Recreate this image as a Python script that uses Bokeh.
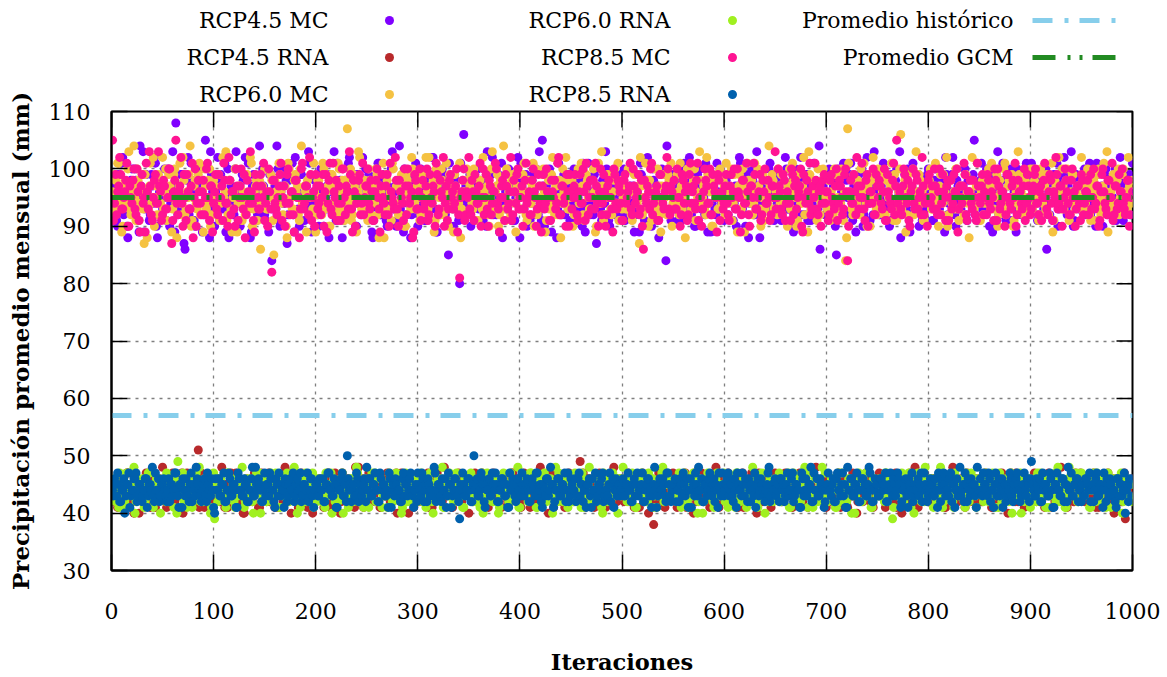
from bokeh.plotting import figure
from bokeh.models import Range1d, FixedTicker
from bokeh.layouts import column
from bokeh.embed import file_html
from bokeh.resources import INLINE
from bokeh.core.properties import value

# ---------------- data ----------------
# each series: values at odd iterations (1, 3, 5, ...) and at even iterations (2, 4, 6, ...)
iteraciones = list(range(1, 1001))

rcp45_mc_impar = [
    97, 93, 91, 99, 95, 102, 94, 90, 96, 98, 92, 100, 95, 89, 97, 103, 93, 96, 91, 99, 94, 101, 88, 96, 98,
    93, 95, 100, 90, 97, 94, 108, 92, 96, 99, 87, 95, 102, 93, 98, 91, 96, 94, 100, 89, 97, 95, 92, 103, 96,
    90, 98, 94, 99, 93, 101, 95, 88, 97, 92, 100, 96, 94, 91, 98, 102, 93, 95, 89, 99, 96, 92, 104, 94, 97,
    91, 95, 99, 84, 96, 93, 100, 90, 97, 94, 98, 92, 95, 101, 89, 96, 93, 99, 95, 91, 97, 103, 94, 92, 98,
    95, 90, 100, 96, 93, 97, 88, 99, 94, 92, 101, 95, 97, 91, 98, 94, 102, 93, 96, 90, 99, 95, 92, 97, 100,
    93, 96, 89, 98, 94, 101, 92, 95, 99, 91, 97, 94, 103, 96, 90, 98, 93, 95, 100, 92, 96, 88, 99, 94, 97,
    92, 100, 95, 91, 98, 94, 96, 102, 93, 89, 97, 95, 99, 92, 96, 101, 94, 90, 98, 93, 80, 95, 106, 97, 92,
    99, 94, 96, 91, 100, 95, 93, 98, 90, 97, 94, 102, 96, 92, 99, 95, 88, 97, 93, 100, 94, 96, 91, 98, 95,
    101, 93, 96, 90, 98, 94, 99, 92, 95, 103, 91, 97, 94, 96, 100, 89, 95, 98, 93, 96, 92, 99, 94, 97, 91,
    96, 100, 93, 95, 98, 90, 97, 94, 101, 92, 96, 99, 87, 95, 93, 98, 94, 100, 91, 97, 95, 92, 99, 96, 93,
    98, 91, 95, 100, 94, 97, 92, 96, 89, 99, 95, 93, 102, 96, 90, 98, 94, 97, 92, 100, 95, 84, 96, 93, 99,
    94, 97, 91, 98, 95, 101, 92, 96, 93, 99, 90, 97, 94, 100, 95, 92, 98, 96, 89, 97, 93, 101, 95, 94, 98,
    92, 96, 99, 94, 91, 97, 95, 102, 93, 96, 90, 98, 94, 100, 92, 95, 97, 88, 99, 94, 96, 93, 101, 95, 91,
    97, 94, 99, 92, 96, 100, 93, 95, 98, 90, 97, 94, 102, 96, 92, 99, 95, 91, 98, 93, 96, 104, 94, 97, 92,
    95, 100, 93, 97, 90, 98, 94, 96, 101, 92, 95, 99, 93, 97, 89, 96, 94, 100, 92, 98, 95, 91, 97, 103, 94,
    96, 92, 99, 95, 93, 98, 91, 97, 94, 100, 96, 88, 95, 99, 93, 97, 92, 101, 94, 96, 90, 98, 95, 93, 99,
    94, 97, 91, 100, 95, 93, 98, 96, 102, 92, 95, 99, 94, 90, 97, 93, 96, 100, 92, 98, 95, 94, 105, 96, 91,
    98, 93, 96, 100, 94, 97, 89, 95, 99, 92, 96, 101, 93, 98, 95, 91, 97, 94, 100, 96, 92, 99, 95, 93, 97,
    101, 94, 96, 91, 98, 95, 93, 100, 97, 92, 96, 99, 94, 90, 98, 95, 102, 93, 97, 94, 96, 91, 99, 95, 93,
    97, 100, 94, 96, 92, 98, 95, 101, 93, 96, 90, 99, 94, 97, 92, 95, 100, 93, 98, 96, 91, 97, 94, 99, 96,
]
rcp45_mc_par = [
    94, 99, 90, 96, 101, 92, 97, 88, 95, 100, 93, 98, 91, 104, 96, 89, 99, 94, 92, 97, 102, 90, 95, 98, 93,
    100, 91, 96, 94, 103, 89, 97, 93, 99, 95, 86, 98, 92, 101, 96, 90, 94, 100, 97, 92, 105, 95, 88, 99, 93,
    96, 102, 91, 95, 98, 89, 100, 94, 97, 92, 103, 96, 90, 99, 93, 95, 101, 88, 97, 94, 91, 98, 96, 100, 92,
    95, 89, 99, 93, 97, 104, 91, 96, 94, 100, 87, 98, 95, 92, 102, 96, 90, 99, 94, 97, 93, 101, 89, 96, 98,
    92, 97, 100, 90, 95, 93, 99, 96, 103, 91, 94, 98, 88, 97, 95, 101, 92, 96, 99, 90, 94, 97, 102, 93, 96,
    99, 93, 88, 97, 95, 101, 92, 98, 94, 90, 96, 100, 93, 97, 91, 104, 95, 89, 99, 94, 96, 92, 98, 101, 90,
    96, 94, 99, 91, 97, 93, 102, 95, 89, 98, 92, 100, 96, 94, 85, 97, 93, 99, 95, 91, 101, 96, 94, 98, 92,
    90, 97, 95, 100, 93, 98, 91, 96, 103, 94, 99, 92, 95, 97, 89, 101, 94, 96, 93, 99, 91, 97, 95, 102, 88,
    97, 93, 99, 95, 91, 98, 96, 100, 92, 94, 105, 90, 97, 95, 99, 93, 96, 88, 101, 94, 98, 92, 96, 99, 94,
    91, 99, 95, 97, 93, 101, 89, 96, 94, 98, 92, 100, 95, 97, 91, 94, 103, 96, 90, 98, 93, 95, 99, 92, 97,
    100, 94, 92, 97, 96, 89, 99, 93, 101, 95, 91, 98, 94, 96, 100, 92, 97, 88, 95, 99, 93, 104, 96, 91, 98,
    93, 96, 100, 91, 95, 98, 94, 102, 92, 97, 90, 99, 96, 93, 95, 101, 89, 97, 94, 98, 92, 96, 100, 95, 91,
    98, 92, 95, 99, 94, 90, 97, 101, 93, 96, 99, 88, 95, 98, 92, 103, 96, 94, 91, 97, 95, 100, 93, 99, 96,
    94, 98, 91, 96, 102, 93, 97, 95, 89, 100, 94, 98, 92, 96, 99, 91, 97, 94, 101, 95, 93, 86, 98, 96, 92,
    99, 95, 93, 97, 85, 100, 94, 96, 92, 98, 95, 101, 91, 97, 93, 99, 96, 90, 95, 102, 94, 97, 92, 98, 95,
    92, 97, 101, 94, 96, 90, 99, 93, 98, 95, 103, 92, 96, 94, 100, 89, 97, 95, 93, 99, 96, 91, 98, 94, 100,
    96, 91, 98, 93, 100, 95, 97, 89, 99, 94, 96, 102, 92, 98, 95, 93, 97, 100, 91, 96, 94, 99, 92, 97, 95,
    101, 93, 97, 95, 90, 99, 94, 96, 103, 92, 98, 95, 91, 97, 100, 93, 96, 89, 99, 94, 97, 92, 101, 95, 98,
    93, 99, 95, 92, 97, 100, 94, 86, 96, 98, 91, 95, 101, 93, 97, 94, 99, 92, 96, 103, 90, 98, 95, 93, 97,
    95, 92, 98, 101, 94, 96, 90, 99, 93, 97, 95, 100, 92, 96, 98, 94, 91, 97, 102, 95, 93, 99, 96, 92, 101,
]

rcp45_rna_impar = [
    44, 42, 45, 43, 46, 41, 44, 47, 43, 45, 42, 44, 46, 40, 43, 45, 44, 42, 47, 43, 45, 41, 44, 46, 43,
    45, 42, 44, 43, 46, 44, 41, 45, 43, 47, 44, 42, 45, 43, 46, 44, 42, 51, 43, 45, 41, 44, 46, 43, 45,
    42, 44, 46, 43, 45, 41, 44, 43, 47, 45, 42, 44, 46, 43, 40, 45, 44, 42, 46, 43, 45, 44, 41, 47, 43,
    44, 46, 42, 45, 43, 44, 41, 46, 44, 43, 45, 42, 47, 44, 43, 45, 41, 44, 46, 43, 42, 45, 44, 40, 46,
    43, 45, 44, 42, 46, 43, 45, 41, 44, 47, 43, 45, 42, 44, 46, 43, 44, 45, 42, 48, 44, 43, 46, 41, 45,
    44, 42, 46, 43, 45, 44, 41, 45, 43, 46, 44, 42, 45, 43, 47, 44, 42, 45, 43, 46, 40, 44, 45, 43, 46,
    42, 45, 44, 43, 46, 41, 44, 45, 43, 47, 44, 42, 45, 43, 46, 44, 41, 45, 43, 44, 46, 42, 45, 44, 43,
    46, 43, 44, 42, 45, 44, 47, 43, 45, 41, 44, 46, 43, 45, 42, 44, 46, 43, 45, 44, 42, 47, 43, 44, 45,
    41, 44, 46, 43, 45, 42, 44, 43, 46, 44, 45, 42, 43, 47, 44, 45, 41, 46, 43, 44, 42, 45, 44, 43, 46,
    44, 42, 45, 43, 49, 44, 42, 46, 43, 45, 44, 41, 45, 43, 46, 44, 42, 45, 43, 47, 44, 45, 42, 44, 46,
    43, 45, 44, 42, 46, 43, 44, 45, 41, 44, 46, 43, 45, 42, 44, 38, 45, 43, 46, 44, 42, 45, 43, 44, 46,
    44, 42, 45, 43, 46, 44, 41, 45, 44, 43, 47, 42, 44, 45, 43, 46, 44, 42, 45, 43, 44, 46, 41, 45, 43,
    45, 43, 44, 46, 42, 45, 44, 43, 46, 41, 44, 45, 43, 47, 44, 42, 45, 43, 46, 44, 45, 42, 44, 43, 46,
    43, 45, 44, 42, 46, 44, 43, 45, 41, 44, 46, 43, 45, 42, 44, 47, 43, 45, 44, 42, 46, 43, 44, 45, 42,
    44, 46, 43, 45, 42, 44, 45, 43, 46, 44, 41, 45, 43, 44, 46, 42, 45, 44, 43, 47, 44, 42, 45, 43, 46,
    45, 43, 44, 46, 42, 45, 43, 44, 46, 41, 45, 44, 43, 46, 42, 44, 45, 43, 48, 44, 42, 45, 43, 44, 46,
    43, 44, 46, 42, 45, 44, 43, 46, 41, 44, 45, 43, 47, 44, 42, 45, 44, 43, 46, 44, 42, 45, 43, 44, 46,
    44, 42, 45, 43, 46, 44, 41, 45, 43, 44, 46, 42, 45, 44, 43, 47, 44, 42, 45, 43, 46, 44, 42, 45, 43,
    45, 43, 44, 46, 42, 44, 45, 43, 46, 44, 41, 45, 43, 44, 46, 42, 45, 44, 43, 46, 44, 42, 45, 43, 47,
    44, 42, 45, 43, 46, 44, 43, 45, 41, 44, 46, 43, 45, 42, 44, 46, 43, 45, 44, 42, 46, 39, 44, 45, 43,
]
rcp45_rna_par = [
    45, 43, 41, 46, 44, 42, 45, 47, 43, 44, 40, 46, 45, 43, 42, 44, 47, 45, 41, 43, 46, 44, 42, 45, 48,
    43, 41, 45, 44, 47, 42, 46, 43, 44, 40, 45, 47, 43, 46, 42, 44, 45, 41, 47, 43, 44, 46, 42, 45, 43,
    46, 44, 42, 48, 43, 45, 41, 44, 46, 43, 47, 42, 45, 44, 40, 46, 43, 45, 42, 47, 44, 41, 45, 46, 43,
    42, 47, 44, 45, 41, 43, 46, 44, 42, 48, 45, 43, 40, 46, 44, 42, 45, 47, 43, 44, 41, 46, 45, 43, 42,
    44, 46, 43, 41, 45, 47, 42, 44, 46, 43, 45, 40, 47, 44, 42, 46, 43, 45, 41, 44, 48, 43, 42, 46, 44,
    47, 43, 45, 42, 44, 46, 41, 45, 43, 47, 44, 42, 46, 45, 40, 43, 47, 44, 42, 45, 46, 43, 41, 44, 45,
    43, 46, 42, 45, 47, 44, 41, 43, 46, 44, 45, 42, 48, 43, 44, 46, 41, 45, 43, 47, 42, 44, 46, 45, 40,
    45, 42, 47, 44, 43, 46, 45, 41, 44, 42, 46, 47, 43, 45, 44, 41, 46, 43, 42, 45, 47, 44, 43, 46, 42,
    44, 47, 43, 45, 41, 46, 44, 42, 45, 48, 43, 44, 46, 40, 45, 43, 47, 42, 44, 46, 45, 41, 43, 47, 44,
    46, 43, 44, 42, 45, 47, 41, 44, 46, 43, 45, 42, 44, 47, 43, 46, 41, 45, 44, 42, 48, 43, 46, 44, 45,
    42, 45, 47, 43, 44, 41, 46, 45, 43, 47, 42, 44, 40, 46, 45, 43, 42, 47, 44, 46, 41, 45, 43, 44, 47,
    45, 41, 44, 46, 43, 47, 42, 45, 44, 40, 46, 43, 45, 47, 42, 44, 46, 41, 45, 43, 48, 44, 42, 46, 45,
    43, 47, 45, 42, 44, 46, 41, 43, 47, 45, 44, 42, 46, 43, 45, 40, 47, 44, 42, 46, 43, 45, 41, 44, 47,
    46, 44, 42, 45, 47, 43, 44, 41, 46, 45, 42, 47, 44, 43, 46, 41, 45, 44, 42, 48, 43, 45, 46, 44, 41,
    44, 42, 46, 43, 45, 47, 41, 44, 46, 42, 45, 43, 47, 44, 40, 46, 45, 42, 44, 47, 43, 46, 41, 45, 44,
    47, 43, 45, 41, 44, 46, 43, 42, 47, 45, 44, 40, 46, 43, 45, 47, 42, 44, 46, 41, 45, 43, 47, 44, 42,
    45, 46, 43, 44, 42, 47, 45, 41, 43, 46, 44, 48, 42, 45, 43, 46, 44, 41, 47, 45, 43, 42, 46, 44, 45,
    42, 44, 47, 45, 43, 41, 46, 44, 42, 45, 47, 43, 46, 40, 44, 45, 43, 47, 42, 46, 44, 41, 45, 43, 46,
    44, 47, 42, 46, 45, 43, 41, 44, 47, 43, 45, 42, 46, 44, 48, 43, 45, 41, 44, 46, 42, 47, 45, 43, 44,
    46, 43, 45, 42, 44, 47, 41, 45, 43, 46, 44, 42, 47, 45, 43, 40, 46, 44, 45, 42, 47, 43, 45, 44, 46,
]

rcp60_mc_impar = [
    96, 99, 93, 101, 95, 90, 98, 94, 103, 92, 97, 95, 100, 91, 96, 93, 99, 88, 97, 94, 102, 95, 92, 98, 96,
    93, 100, 95, 97, 89, 99, 94, 96, 101, 92, 98, 93, 95, 104, 91, 97, 94, 99, 92, 96, 100, 93, 98, 90, 95,
    97, 92, 99, 94, 102, 96, 91, 98, 93, 95, 100, 89, 97, 94, 96, 92, 99, 95, 101, 93, 97, 91, 98, 94, 96,
    100, 93, 95, 98, 85, 96, 92, 99, 94, 97, 90, 101, 95, 93, 98, 96, 92, 100, 94, 97, 89, 95, 99, 93, 96,
    92, 98, 95, 101, 93, 96, 90, 99, 94, 97, 92, 100, 96, 93, 98, 107, 95, 91, 99, 94, 96, 102, 93, 97, 95,
    91, 98, 94, 96, 100, 92, 97, 95, 88, 99, 93, 96, 101, 94, 97, 92, 98, 95, 90, 99, 96, 93, 100, 94, 97,
    95, 92, 99, 93, 96, 102, 94, 98, 91, 97, 95, 100, 92, 96, 93, 99, 94, 89, 97, 95, 101, 93, 96, 98, 92,
    97, 94, 100, 95, 91, 98, 93, 96, 99, 92, 95, 103, 94, 97, 90, 98, 95, 93, 100, 96, 92, 99, 94, 97, 95,
    93, 99, 96, 91, 98, 94, 101, 95, 92, 97, 94, 100, 89, 96, 93, 99, 95, 97, 92, 98, 94, 96, 102, 93, 95,
    98, 92, 96, 100, 94, 97, 91, 99, 95, 93, 98, 96, 90, 101, 94, 97, 92, 95, 99, 93, 96, 100, 94, 91, 98,
    95, 97, 93, 100, 92, 96, 99, 94, 87, 97, 95, 101, 93, 98, 91, 96, 94, 100, 92, 97, 95, 93, 99, 96, 90,
    98, 94, 96, 101, 93, 95, 99, 92, 97, 94, 100, 96, 91, 98, 95, 93, 102, 94, 97, 90, 96, 99, 93, 95, 98,
    92, 97, 95, 100, 94, 96, 89, 99, 93, 97, 95, 101, 92, 98, 94, 96, 100, 93, 95, 91, 98, 94, 97, 99, 93,
    96, 100, 94, 92, 98, 95, 97, 93, 101, 96, 90, 99, 94, 97, 92, 95, 103, 93, 98, 96, 91, 97, 94, 100, 95,
    93, 98, 96, 92, 99, 95, 94, 100, 91, 84, 107, 96, 93, 99, 95, 98, 92, 96, 101, 94, 97, 90, 98, 95, 93,
    100, 94, 96, 92, 98, 95, 97, 93, 99, 91, 96, 106, 94, 98, 92, 97, 95, 100, 93, 96, 99, 94, 91, 97, 95,
    98, 93, 96, 101, 94, 97, 92, 99, 95, 90, 98, 94, 96, 100, 93, 97, 95, 92, 99, 94, 96, 102, 93, 97, 95,
    91, 98, 94, 96, 100, 93, 97, 95, 99, 92, 96, 94, 101, 93, 98, 95, 90, 97, 94, 99, 96, 92, 98, 95, 93,
    97, 100, 94, 96, 92, 99, 95, 93, 98, 96, 101, 91, 97, 94, 96, 100, 93, 98, 95, 92, 99, 94, 96, 97, 93,
    95, 99, 93, 97, 91, 98, 96, 94, 100, 92, 97, 95, 103, 93, 96, 99, 94, 98, 92, 96, 100, 95, 93, 97, 94,
]
rcp60_mc_par = [
    92, 98, 101, 94, 89, 97, 95, 100, 93, 96, 104, 91, 98, 94, 99, 87, 96, 93, 101, 95, 90, 97, 99, 94, 102,
    96, 91, 99, 95, 93, 100, 88, 97, 94, 102, 92, 96, 99, 90, 95, 98, 93, 101, 96, 89, 97, 94, 100, 92, 98,
    94, 99, 91, 97, 95, 103, 92, 98, 89, 96, 100, 94, 97, 91, 99, 95, 93, 102, 90, 96, 98, 94, 86, 97, 100,
    93, 96, 99, 91, 98, 94, 101, 96, 92, 97, 88, 100, 95, 93, 99, 97, 91, 104, 94, 96, 98, 92, 95, 101, 89,
    98, 95, 92, 100, 94, 97, 90, 99, 96, 93, 101, 95, 98, 91, 96, 94, 100, 92, 97, 89, 103, 95, 93, 98, 96,
    100, 92, 97, 94, 99, 88, 96, 101, 93, 98, 95, 91, 100, 94, 97, 92, 99, 96, 90, 98, 94, 102, 95, 93, 97,
    91, 99, 95, 102, 93, 97, 94, 89, 100, 96, 92, 98, 95, 101, 90, 97, 93, 99, 96, 94, 88, 98, 92, 100, 95,
    99, 93, 96, 91, 98, 95, 102, 94, 97, 90, 100, 93, 96, 99, 92, 95, 104, 91, 97, 94, 98, 96, 89, 99, 93,
    96, 101, 92, 98, 94, 97, 90, 100, 95, 93, 99, 96, 91, 98, 94, 102, 92, 97, 95, 88, 100, 94, 98, 93, 96,
    90, 97, 99, 94, 101, 92, 96, 98, 93, 95, 100, 89, 97, 94, 103, 91, 96, 99, 95, 92, 98, 94, 101, 96, 93,
    97, 93, 100, 96, 91, 99, 94, 97, 102, 92, 95, 98, 90, 96, 94, 100, 93, 97, 89, 99, 95, 92, 98, 101, 94,
    95, 99, 92, 97, 94, 88, 100, 96, 93, 98, 91, 95, 103, 94, 97, 92, 99, 96, 90, 98, 95, 93, 100, 94, 97,
    101, 94, 96, 91, 99, 95, 97, 93, 100, 89, 96, 98, 94, 92, 101, 95, 97, 90, 99, 93, 96, 104, 92, 98, 95,
    92, 97, 99, 94, 96, 90, 100, 93, 98, 95, 91, 97, 94, 102, 96, 89, 99, 93, 97, 95, 100, 92, 98, 94, 96,
    98, 91, 95, 100, 93, 97, 94, 99, 96, 88, 101, 95, 92, 98, 94, 96, 100, 93, 97, 90, 99, 95, 102, 94, 92,
    94, 99, 96, 92, 98, 95, 101, 91, 97, 94, 100, 93, 96, 89, 99, 95, 97, 92, 103, 94, 98, 96, 91, 97, 95,
    100, 93, 97, 95, 90, 99, 94, 96, 102, 92, 98, 95, 93, 100, 91, 97, 94, 99, 96, 88, 98, 93, 95, 101, 94,
    96, 92, 99, 94, 97, 101, 93, 95, 90, 98, 96, 100, 92, 97, 94, 99, 91, 96, 103, 93, 98, 95, 92, 97, 100,
    93, 98, 95, 91, 100, 94, 97, 99, 92, 96, 89, 98, 95, 102, 93, 97, 94, 100, 91, 96, 99, 93, 97, 95, 102,
    97, 94, 100, 92, 96, 98, 91, 99, 95, 93, 101, 96, 89, 98, 94, 97, 92, 100, 95, 99, 93, 96, 102, 94, 98,
]

rcp60_rna_impar = [
    43, 46, 44, 41, 45, 44, 42, 47, 43, 45, 44, 40, 46, 43, 44, 45, 42, 44, 47, 43, 41, 45, 44, 46, 43,
    44, 42, 45, 46, 43, 41, 44, 49, 45, 43, 42, 46, 44, 45, 41, 43, 47, 44, 42, 45, 46, 43, 44, 40, 45,
    39, 45, 43, 46, 44, 42, 47, 44, 43, 45, 41, 46, 44, 43, 45, 42, 44, 46, 43, 40, 45, 44, 47, 42, 44,
    46, 43, 44, 42, 45, 47, 43, 41, 44, 46, 45, 42, 43, 44, 48, 45, 43, 41, 46, 44, 42, 45, 43, 47, 44,
    42, 45, 44, 46, 41, 43, 45, 47, 44, 42, 45, 43, 46, 40, 44, 45, 43, 46, 42, 44, 47, 43, 45, 41, 44,
    45, 43, 47, 44, 42, 46, 44, 41, 45, 43, 44, 46, 42, 45, 47, 43, 44, 41, 46, 45, 43, 42, 44, 46, 43,
    44, 47, 42, 45, 43, 46, 44, 40, 45, 43, 44, 46, 41, 44, 45, 47, 43, 42, 46, 44, 45, 43, 41, 44, 46,
    43, 45, 46, 42, 44, 41, 47, 45, 43, 44, 46, 42, 45, 44, 40, 43, 46, 45, 44, 42, 47, 43, 45, 44, 41,
    46, 44, 43, 45, 42, 47, 44, 46, 41, 43, 45, 44, 42, 46, 45, 43, 44, 48, 42, 45, 43, 46, 44, 41, 45,
    43, 46, 44, 42, 45, 47, 41, 44, 45, 43, 46, 42, 44, 45, 43, 40, 46, 44, 45, 42, 47, 43, 44, 46, 43,
    48, 44, 42, 45, 46, 43, 41, 45, 44, 47, 43, 45, 42, 44, 46, 41, 45, 43, 44, 47, 42, 45, 46, 43, 44,
    45, 42, 44, 46, 43, 47, 44, 41, 45, 43, 46, 44, 42, 45, 40, 44, 46, 43, 45, 42, 44, 47, 43, 45, 44,
    42, 46, 44, 43, 45, 41, 47, 44, 43, 46, 45, 42, 44, 43, 46, 45, 41, 44, 47, 43, 45, 42, 46, 44, 43,
    45, 44, 42, 46, 43, 45, 47, 41, 44, 43, 46, 45, 42, 44, 48, 43, 45, 44, 41, 46, 43, 44, 45, 42, 47,
    44, 43, 46, 45, 41, 44, 42, 47, 45, 43, 44, 46, 40, 45, 43, 44, 46, 42, 45, 47, 43, 44, 41, 46, 45,
    43, 45, 44, 42, 47, 46, 43, 39, 44, 45, 43, 46, 42, 44, 45, 47, 41, 44, 46, 43, 45, 42, 44, 48, 43,
    46, 44, 41, 45, 43, 47, 44, 42, 46, 45, 43, 44, 41, 46, 44, 45, 43, 42, 47, 44, 46, 43, 45, 41, 44,
    45, 43, 46, 44, 42, 45, 47, 43, 44, 41, 46, 45, 43, 44, 42, 47, 45, 44, 43, 46, 40, 45, 44, 43, 46,
    42, 45, 44, 47, 43, 46, 44, 41, 45, 43, 44, 46, 42, 48, 44, 45, 43, 41, 46, 44, 45, 43, 47, 42, 44,
    45, 43, 46, 44, 41, 45, 44, 47, 43, 42, 46, 44, 45, 43, 41, 46, 44, 43, 45, 47, 42, 44, 46, 43, 45,
]
rcp60_rna_par = [
    45, 42, 44, 47, 43, 46, 41, 44, 45, 43, 48, 42, 45, 44, 46, 41, 43, 47, 45, 44, 42, 46, 43, 40, 45,
    43, 47, 42, 45, 44, 46, 40, 44, 43, 47, 45, 41, 44, 46, 42, 45, 43, 48, 44, 42, 46, 43, 45, 41, 47,
    44, 42, 46, 45, 43, 41, 47, 44, 46, 42, 45, 43, 44, 48, 41, 46, 45, 43, 42, 44, 47, 45, 40, 43, 46,
    42, 45, 47, 43, 44, 46, 41, 45, 43, 44, 47, 42, 46, 45, 43, 40, 44, 46, 42, 47, 45, 43, 44, 41, 46,
    46, 44, 42, 45, 47, 43, 44, 40, 46, 45, 42, 44, 47, 43, 45, 41, 46, 44, 43, 48, 42, 45, 44, 46, 43,
    41, 45, 44, 47, 42, 44, 46, 43, 45, 41, 47, 44, 42, 46, 45, 43, 40, 44, 47, 42, 45, 46, 43, 44, 42,
    45, 43, 46, 41, 44, 47, 42, 45, 44, 46, 43, 48, 41, 45, 43, 44, 46, 42, 47, 45, 43, 41, 46, 44, 45,
    47, 42, 44, 45, 43, 46, 40, 45, 47, 43, 44, 42, 46, 45, 41, 44, 47, 43, 45, 42, 46, 44, 43, 48, 41,
    44, 46, 43, 42, 47, 45, 44, 41, 46, 43, 45, 47, 42, 44, 46, 40, 45, 43, 47, 44, 42, 45, 46, 43, 44,
    42, 47, 45, 44, 41, 46, 43, 45, 48, 42, 44, 46, 43, 45, 41, 47, 44, 42, 46, 45, 43, 44, 40, 46, 45,
    46, 43, 44, 42, 47, 45, 41, 44, 46, 43, 45, 42, 47, 44, 46, 43, 41, 45, 44, 48, 42, 46, 45, 43, 44,
    43, 45, 47, 41, 44, 46, 42, 45, 43, 47, 44, 40, 46, 45, 42, 44, 47, 43, 45, 41, 46, 44, 43, 45, 47,
    45, 41, 44, 46, 43, 47, 45, 42, 44, 46, 41, 45, 43, 48, 44, 42, 46, 45, 43, 40, 47, 44, 45, 42, 46,
    44, 47, 42, 45, 46, 43, 41, 44, 47, 45, 43, 42, 46, 44, 45, 41, 47, 43, 44, 46, 42, 45, 48, 43, 44,
    42, 45, 46, 44, 41, 47, 43, 45, 44, 42, 46, 45, 43, 40, 44, 47, 42, 46, 45, 43, 44, 41, 46, 45, 43,
    46, 44, 43, 47, 42, 45, 44, 41, 46, 43, 45, 47, 42, 44, 46, 43, 45, 40, 44, 47, 43, 45, 42, 46, 44,
    43, 46, 45, 42, 44, 48, 41, 45, 43, 46, 44, 42, 47, 45, 43, 44, 46, 41, 45, 42, 47, 44, 43, 46, 45,
    45, 42, 47, 44, 43, 46, 45, 41, 44, 47, 42, 45, 46, 43, 44, 40, 46, 45, 43, 47, 44, 42, 45, 46, 41,
    44, 46, 42, 45, 47, 43, 44, 46, 41, 45, 43, 47, 44, 42, 46, 45, 41, 44, 48, 43, 45, 46, 42, 44, 47,
    43, 45, 46, 41, 44, 47, 42, 45, 43, 46, 44, 41, 47, 45, 43, 44, 46, 42, 45, 40, 44, 46, 43, 45, 42,
]

rcp85_mc_impar = [
    105, 94, 92, 97, 99, 93, 96, 101, 90, 95, 98, 93, 100, 91, 97, 94, 89, 96, 103, 92, 95, 99, 94, 97, 91,
    98, 93, 95, 100, 87, 96, 105, 92, 97, 94, 99, 91, 96, 93, 101, 95, 90, 98, 94, 96, 92, 100, 95, 97, 89,
    96, 93, 99, 95, 91, 98, 94, 102, 92, 96, 90, 97, 95, 100, 93, 88, 98, 94, 96, 91, 99, 95, 93, 97, 101,
    94, 90, 96, 82, 98, 93, 95, 99, 91, 97, 94, 100, 92, 96, 89, 98, 95, 93, 101, 94, 97, 92, 99, 95, 90,
    97, 94, 92, 99, 96, 89, 98, 93, 101, 95, 91, 97, 94, 100, 92, 96, 103, 93, 98, 90, 95, 99, 94, 92, 97,
    100, 93, 96, 91, 98, 95, 89, 99, 94, 97, 92, 101, 95, 93, 98, 90, 96, 94, 100, 92, 97, 95, 88, 99, 93,
    96, 91, 98, 94, 100, 92, 95, 97, 90, 99, 93, 96, 102, 94, 91, 98, 95, 93, 97, 89, 81, 96, 100, 92, 95,
    93, 98, 91, 96, 94, 101, 95, 92, 99, 90, 97, 94, 96, 100, 93, 95, 98, 91, 97, 94, 102, 92, 96, 99, 93,
    95, 90, 98, 94, 96, 92, 100, 95, 93, 97, 89, 99, 94, 96, 91, 98, 95, 93, 101, 92, 97, 94, 90, 96, 99,
    93, 97, 95, 91, 99, 94, 96, 101, 92, 98, 95, 93, 97, 90, 100, 94, 96, 92, 98, 95, 89, 99, 93, 97, 94,
    91, 99, 95, 97, 93, 100, 94, 96, 92, 98, 86, 95, 97, 93, 101, 94, 96, 91, 99, 95, 93, 97, 100, 92, 96,
    98, 93, 95, 90, 99, 94, 97, 92, 101, 96, 94, 98, 91, 95, 93, 100, 97, 94, 92, 99, 96, 89, 98, 95, 93,
    97, 94, 91, 99, 96, 93, 100, 95, 92, 98, 94, 96, 90, 97, 101, 93, 95, 99, 92, 96, 94, 98, 91, 97, 95,
    93, 100, 96, 92, 98, 94, 95, 91, 99, 97, 93, 96, 100, 89, 95, 98, 94, 92, 97, 101, 93, 96, 90, 98, 94,
    96, 92, 99, 94, 97, 91, 98, 95, 93, 100, 84, 96, 94, 99, 92, 97, 95, 101, 93, 98, 90, 96, 94, 92, 99,
    95, 97, 93, 100, 91, 96, 94, 98, 92, 105, 95, 93, 97, 99, 94, 91, 96, 100, 93, 98, 95, 92, 97, 94, 90,
    99, 95, 93, 97, 92, 100, 94, 96, 91, 98, 95, 93, 99, 96, 89, 97, 94, 101, 92, 96, 98, 93, 95, 91, 97,
    94, 99, 96, 92, 98, 93, 95, 100, 91, 97, 94, 96, 90, 99, 95, 93, 98, 101, 92, 96, 94, 97, 91, 99, 95,
    93, 97, 100, 94, 96, 91, 98, 95, 92, 99, 94, 96, 102, 93, 97, 90, 95, 98, 94, 92, 100, 96, 93, 97, 91,
    98, 94, 96, 92, 99, 95, 93, 97, 90, 96, 100, 94, 92, 98, 95, 91, 97, 93, 99, 96, 94, 92, 98, 90, 95,
]
rcp85_mc_par = [
    91, 99, 96, 102, 93, 95, 98, 90, 97, 94, 100, 92, 96, 89, 99, 95, 101, 93, 97, 91, 98, 94, 103, 96, 92,
    97, 93, 100, 95, 91, 98, 94, 96, 102, 90, 95, 99, 93, 97, 88, 100, 94, 96, 92, 98, 95, 101, 91, 97, 94,
    99, 92, 95, 97, 101, 94, 90, 98, 96, 93, 100, 91, 97, 95, 99, 92, 96, 103, 94, 89, 97, 93, 99, 95, 91,
    96, 100, 93, 98, 94, 92, 97, 101, 95, 90, 99, 94, 96, 92, 98, 95, 88, 100, 93, 97, 95, 102, 91, 96, 99,
    93, 97, 95, 90, 99, 94, 101, 92, 96, 98, 94, 91, 100, 95, 97, 93, 99, 89, 96, 94, 98, 92, 101, 95, 97,
    94, 98, 91, 96, 100, 93, 97, 95, 92, 99, 90, 96, 94, 102, 93, 98, 95, 91, 97, 100, 94, 96, 89, 98, 93,
    100, 95, 93, 97, 91, 99, 94, 96, 101, 92, 98, 95, 90, 97, 93, 99, 96, 94, 100, 92, 95, 98, 91, 96, 102,
    92, 96, 99, 94, 97, 90, 100, 95, 93, 98, 92, 96, 101, 94, 89, 97, 95, 99, 93, 96, 91, 98, 94, 100, 95,
    97, 93, 101, 95, 92, 98, 96, 90, 99, 94, 97, 93, 100, 95, 91, 96, 98, 94, 102, 92, 97, 95, 99, 90, 96,
    95, 99, 92, 96, 94, 100, 91, 97, 95, 93, 98, 101, 94, 96, 92, 99, 90, 97, 95, 93, 100, 94, 98, 96, 91,
    98, 94, 96, 101, 92, 97, 95, 99, 93, 90, 98, 94, 96, 100, 92, 95, 97, 91, 99, 94, 96, 102, 93, 97, 95,
    93, 100, 95, 92, 98, 96, 91, 99, 94, 97, 93, 101, 95, 90, 96, 98, 94, 100, 92, 97, 95, 99, 91, 96, 94,
    99, 92, 97, 95, 100, 93, 96, 89, 98, 94, 101, 92, 97, 95, 99, 93, 96, 91, 98, 100, 94, 95, 92, 97, 103,
    95, 97, 93, 99, 91, 96, 94, 100, 92, 98, 95, 97, 90, 99, 94, 96, 101, 93, 95, 98, 92, 97, 94, 99, 96,
    91, 98, 95, 93, 100, 94, 97, 92, 99, 96, 90, 98, 94, 96, 102, 93, 97, 95, 91, 99, 94, 96, 100, 92, 97,
    98, 94, 96, 91, 99, 95, 93, 101, 97, 94, 96, 92, 100, 95, 98, 90, 97, 94, 99, 93, 96, 102, 92, 95, 98,
    94, 97, 100, 93, 96, 92, 99, 95, 97, 91, 98, 94, 96, 100, 93, 95, 97, 99, 91, 96, 94, 98, 92, 101, 95,
    97, 92, 95, 99, 94, 96, 91, 98, 100, 93, 96, 95, 92, 99, 94, 97, 95, 90, 98, 96, 93, 100, 94, 97, 92,
    96, 99, 94, 92, 97, 95, 101, 93, 96, 98, 91, 95, 99, 94, 97, 93, 100, 96, 92, 98, 95, 90, 97, 94, 99,
    92, 96, 98, 95, 93, 100, 94, 97, 91, 99, 96, 93, 98, 95, 101, 92, 97, 94, 96, 100, 93, 95, 98, 92, 96,
]

rcp85_rna_impar = [
    44, 46, 43, 45, 42, 44, 40, 45, 47, 43, 44, 46, 42, 45, 44, 43, 46, 41, 45, 44, 43, 47, 44, 42, 45,
    46, 43, 44, 42, 45, 44, 47, 43, 45, 41, 44, 46, 43, 45, 42, 44, 48, 45, 43, 44, 46, 42, 45, 43, 44,
    40, 44, 46, 43, 45, 42, 44, 47, 43, 45, 44, 41, 46, 44, 43, 45, 42, 44, 46, 43, 48, 44, 45, 42, 44,
    43, 45, 47, 44, 42, 46, 43, 45, 44, 41, 45, 43, 46, 44, 42, 45, 44, 47, 43, 45, 44, 42, 46, 43, 44,
    45, 43, 44, 46, 42, 45, 47, 44, 43, 45, 41, 44, 46, 43, 45, 50, 44, 42, 45, 43, 46, 44, 43, 45, 42,
    44, 46, 43, 45, 44, 42, 47, 44, 45, 43, 41, 46, 44, 43, 45, 44, 42, 46, 43, 45, 44, 47, 43, 44, 42,
    45, 43, 46, 44, 42, 45, 44, 43, 47, 44, 45, 42, 44, 46, 43, 45, 41, 44, 46, 43, 39, 44, 45, 43, 46,
    44, 42, 50, 45, 43, 44, 46, 42, 45, 44, 43, 47, 44, 45, 42, 44, 46, 43, 45, 41, 44, 46, 43, 45, 44,
    43, 45, 44, 46, 42, 44, 45, 43, 47, 44, 42, 45, 43, 46, 44, 45, 41, 44, 46, 43, 45, 44, 42, 47, 43,
    45, 44, 42, 46, 43, 45, 44, 41, 45, 43, 46, 44, 42, 45, 44, 47, 43, 44, 45, 42, 46, 44, 43, 45, 44,
    46, 43, 45, 44, 42, 45, 43, 47, 44, 45, 42, 44, 46, 43, 41, 45, 44, 43, 46, 44, 45, 42, 47, 43, 44,
    45, 42, 44, 46, 43, 45, 44, 41, 46, 44, 43, 45, 48, 44, 42, 45, 43, 46, 44, 45, 42, 44, 47, 43, 45,
    44, 46, 43, 45, 42, 44, 47, 44, 43, 45, 46, 42, 44, 45, 43, 41, 46, 44, 45, 43, 44, 47, 42, 45, 44,
    43, 45, 46, 44, 42, 45, 43, 44, 47, 43, 45, 44, 41, 46, 44, 43, 45, 48, 42, 44, 46, 43, 45, 44, 42,
    45, 44, 43, 46, 42, 47, 44, 45, 43, 41, 48, 44, 46, 43, 45, 44, 42, 46, 44, 43, 45, 47, 42, 44, 45,
    43, 46, 44, 45, 42, 44, 47, 43, 45, 44, 46, 41, 44, 45, 43, 46, 44, 42, 45, 44, 43, 47, 44, 45, 42,
    44, 45, 43, 46, 41, 44, 45, 47, 43, 44, 46, 42, 45, 44, 43, 48, 44, 42, 45, 46, 43, 44, 45, 41, 44,
    46, 43, 45, 44, 47, 42, 44, 45, 43, 46, 44, 41, 45, 43, 44, 46, 42, 45, 47, 44, 43, 45, 44, 46, 42,
    49, 44, 43, 45, 46, 42, 44, 45, 43, 47, 44, 41, 45, 44, 43, 46, 42, 45, 48, 44, 43, 45, 46, 42, 44,
    45, 43, 46, 44, 42, 45, 44, 47, 43, 45, 41, 44, 46, 43, 45, 44, 42, 46, 43, 45, 44, 40, 45, 46, 43,
]
rcp85_rna_par = [
    43, 45, 47, 42, 44, 46, 43, 45, 41, 44, 46, 47, 43, 45, 42, 44, 46, 43, 45, 48, 42, 44, 46, 43, 45,
    44, 42, 46, 45, 43, 47, 44, 41, 45, 46, 43, 44, 42, 47, 45, 43, 46, 44, 42, 45, 43, 47, 44, 46, 41,
    46, 44, 43, 45, 47, 42, 44, 46, 43, 45, 41, 47, 44, 43, 46, 45, 42, 44, 48, 43, 45, 46, 44, 42, 47,
    45, 43, 46, 44, 41, 45, 47, 43, 44, 46, 42, 45, 44, 47, 43, 46, 44, 42, 45, 43, 47, 44, 46, 41, 45,
    43, 46, 44, 42, 45, 47, 44, 43, 46, 41, 45, 44, 47, 43, 42, 46, 45, 44, 43, 47, 42, 45, 44, 46, 48,
    46, 43, 45, 47, 44, 42, 46, 45, 43, 44, 47, 41, 45, 46, 43, 44, 42, 47, 45, 43, 46, 44, 41, 45, 47,
    44, 47, 42, 45, 46, 43, 44, 48, 42, 45, 43, 46, 44, 41, 47, 45, 43, 46, 44, 42, 45, 47, 43, 44, 46,
    42, 45, 44, 46, 43, 47, 45, 41, 44, 46, 43, 45, 47, 42, 44, 46, 45, 43, 41, 47, 44, 45, 42, 46, 44,
    47, 43, 45, 44, 42, 46, 44, 47, 43, 45, 41, 44, 46, 43, 48, 45, 42, 44, 46, 43, 45, 47, 44, 42, 46,
    44, 46, 43, 47, 45, 42, 44, 45, 46, 41, 44, 47, 43, 45, 46, 42, 44, 43, 47, 45, 41, 46, 44, 43, 45,
    43, 45, 47, 44, 42, 46, 45, 43, 44, 47, 42, 45, 46, 44, 43, 48, 41, 45, 44, 46, 43, 47, 45, 42, 44,
    46, 44, 42, 45, 47, 43, 46, 44, 41, 45, 47, 43, 44, 46, 42, 45, 44, 47, 43, 46, 45, 41, 44, 47, 43,
    45, 47, 44, 43, 46, 41, 45, 44, 47, 43, 45, 46, 42, 44, 47, 45, 43, 46, 44, 42, 45, 48, 43, 44, 46,
    44, 42, 46, 45, 43, 47, 44, 46, 42, 45, 44, 41, 47, 43, 46, 44, 45, 42, 47, 44, 43, 46, 45, 41, 44,
    47, 44, 45, 42, 46, 44, 43, 47, 45, 41, 44, 46, 43, 45, 47, 42, 44, 46, 45, 43, 48, 44, 42, 46, 45,
    43, 46, 44, 47, 42, 45, 44, 46, 43, 47, 45, 42, 44, 46, 41, 45, 47, 43, 44, 46, 45, 42, 47, 44, 43,
    46, 45, 43, 44, 47, 42, 46, 45, 44, 43, 47, 45, 41, 46, 44, 43, 45, 47, 42, 44, 46, 45, 43, 48, 44,
    44, 47, 45, 43, 46, 44, 41, 47, 45, 43, 46, 44, 42, 45, 47, 43, 44, 46, 45, 42, 44, 47, 43, 45, 46,
    45, 43, 46, 44, 42, 47, 45, 44, 43, 46, 41, 45, 47, 44, 43, 46, 45, 42, 44, 47, 43, 45, 46, 44, 42,
    43, 46, 45, 47, 44, 42, 46, 43, 45, 44, 47, 42, 45, 46, 43, 44, 41, 46, 45, 43, 47, 44, 42, 45, 46,
]

promedio_historico = 57
promedio_gcm = 95

series_names = ["RCP4.5 MC", "RCP4.5 RNA", "RCP6.0 MC", "RCP6.0 RNA", "RCP8.5 MC", "RCP8.5 RNA"]
series_parts = [
    (rcp45_mc_impar, rcp45_mc_par),
    (rcp45_rna_impar, rcp45_rna_par),
    (rcp60_mc_impar, rcp60_mc_par),
    (rcp60_rna_impar, rcp60_rna_par),
    (rcp85_mc_impar, rcp85_mc_par),
    (rcp85_rna_impar, rcp85_rna_par),
]
line_names = ["Promedio histórico", "Promedio GCM"]
line_values = [promedio_historico, promedio_gcm]

x_ticks = list(range(0, 1001, 100))
y_ticks = list(range(30, 111, 10))

# ---------------- styles / layout ----------------
FONT = "DejaVu Serif"
series_colors = ["#8000ff", "#b8292b", "#f5c242", "#a0f020", "#ff1493", "#0060ad"]
line_colors = ["#87ceeb", "#228b22"]
line_dashes = ["20 12 4 11", "23 12 3 9 3 10"]
MARK = 9
FRAME_L, FRAME_R, FRAME_T, FRAME_B = 111, 1132, 111, 570   # page pixels of the plot frame
FRAME_W = FRAME_R - FRAME_L
FRAME_H = FRAME_B - FRAME_T
TICK_LEN = 16
X0, X1, Y0, Y1 = 0, 1000, 30, 110
OVERLAP = 20

# ---------------- legend strip (coordinates = page pixels) ----------------
leg = figure(frame_width=FRAME_W, height=FRAME_T, x_range=Range1d(FRAME_L, FRAME_R),
             y_range=Range1d(FRAME_T, 0), output_backend="svg", toolbar_location=None,
             min_border_left=FRAME_L, min_border_right=32, min_border_top=0, min_border_bottom=0,
             x_axis_type=None, y_axis_type=None, outline_line_color=None)
leg.grid.visible = False
rows_y = [20, 57, 94]
text_right = [328, 670, 1013]
marker_x = [389, 732]
for k, name in enumerate(series_names):
    col = k // 3
    ry = rows_y[k % 3]
    leg.text(x=[text_right[col]], y=[ry], text=[name], text_align="right", text_baseline="middle",
             text_font=value(FONT), text_font_size="22px", text_color="black")
    leg.scatter(x=[marker_x[col]], y=[ry], size=MARK, fill_color=series_colors[k], line_color=None)
for k, name in enumerate(line_names):
    ry = rows_y[k]
    leg.text(x=[text_right[2]], y=[ry], text=[name], text_align="right", text_baseline="middle",
             text_font=value(FONT), text_font_size="22px", text_color="black")
    leg.line(x=[1032, 1115], y=[ry, ry], line_color=line_colors[k], line_width=5,
             line_dash=line_dashes[k])

# ---------------- main plot ----------------
p = figure(frame_width=FRAME_W, frame_height=FRAME_H, x_range=Range1d(X0, X1), y_range=Range1d(Y0, Y1),
           output_backend="svg", toolbar_location=None,
           min_border_left=FRAME_L, min_border_right=32, min_border_top=OVERLAP, min_border_bottom=105,
           margin=(-OVERLAP, 0, 0, 0))
p.border_fill_alpha = 0
p.outline_line_color = "black"
p.outline_line_width = 2

for ax in (p.xaxis[0], p.yaxis[0]):
    ax.axis_line_color = "black"
    ax.axis_line_width = 2
    ax.major_tick_in = TICK_LEN
    ax.major_tick_out = 0
    ax.major_tick_line_width = 1.5
    ax.major_tick_line_color = "black"
    ax.minor_tick_line_color = None
    ax.major_label_text_font = FONT
    ax.major_label_text_font_size = "22px"
    ax.major_label_text_color = "black"
    ax.axis_label_text_font = FONT
    ax.axis_label_text_font_style = "bold"
    ax.axis_label_text_color = "black"

p.xaxis[0].axis_label_text_font_size = "22.5px"
p.yaxis[0].axis_label_text_font_size = "23px"
p.xaxis[0].ticker = FixedTicker(ticks=x_ticks)
p.yaxis[0].ticker = FixedTicker(ticks=y_ticks)
p.xaxis[0].axis_label = "Iteraciones"
p.yaxis[0].axis_label = "Precipitación promedio mensual (mm)"
p.xaxis[0].major_label_standoff = 32
p.xaxis[0].axis_label_standoff = 27
p.yaxis[0].major_label_standoff = 21
p.yaxis[0].axis_label_standoff = 12

p.xgrid.ticker = FixedTicker(ticks=x_ticks)
p.ygrid.ticker = FixedTicker(ticks=y_ticks)
for g in (p.xgrid[0], p.ygrid[0]):
    g.grid_line_color = "#7f7f7f"
    g.grid_line_width = 1.3
    g.grid_line_dash = "3 5"

# mirrored inward ticks on the top and right borders
dy = TICK_LEN * (Y1 - Y0) / FRAME_H
dx = TICK_LEN * (X1 - X0) / FRAME_W
p.segment(x0=x_ticks, y0=[Y1] * len(x_ticks), x1=x_ticks, y1=[Y1 - dy] * len(x_ticks),
          line_color="black", line_width=1.5)
p.segment(x0=[X1] * len(y_ticks), y0=y_ticks, x1=[X1 - dx] * len(y_ticks), y1=y_ticks,
          line_color="black", line_width=1.5)

for k, (impar, par) in enumerate(series_parts):
    vals = [v for pair in zip(impar, par) for v in pair]
    n = min(len(vals), len(iteraciones))
    p.scatter(x=iteraciones[:n], y=vals[:n], size=MARK, fill_color=series_colors[k], line_color=None)

for k, val in enumerate(line_values):
    p.line(x=[X0, X1], y=[val, val], line_color=line_colors[k], line_width=5, line_dash=line_dashes[k])

layout = column(leg, p)
open("out.html", "w").write(file_html(layout, INLINE))
